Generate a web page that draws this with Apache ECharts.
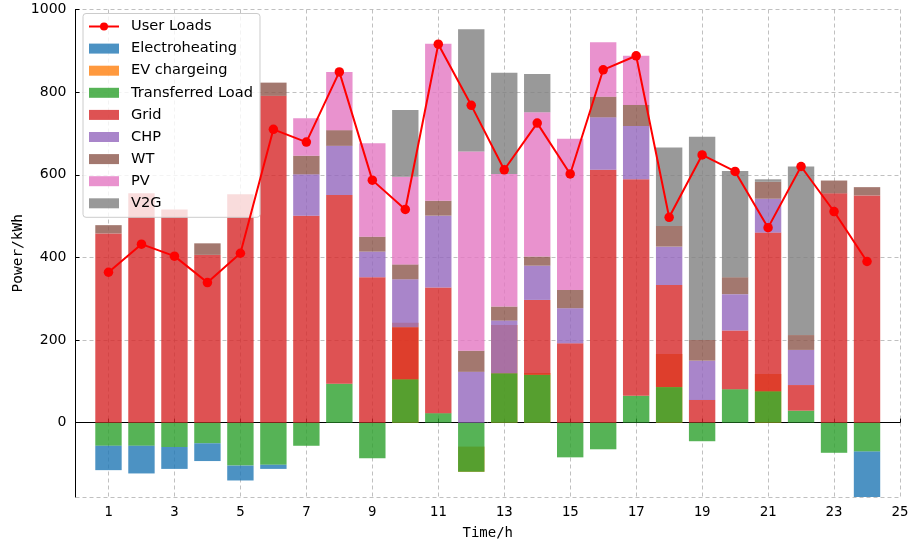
<!DOCTYPE html>
<html><head><meta charset="utf-8">
<script src="https://cdn.jsdelivr.net/npm/echarts@6/dist/echarts.min.js"></script>
<style>html,body{margin:0;padding:0;background:#fff}#c{width:910px;height:544px}</style>
</head><body><div id="c"></div>
<script>
// x categories (0..25), bars at hours 1..24
const xCategories = [0,1,2,3,4,5,6,7,8,9,10,11,12,13,14,15,16,17,18,19,20,21,22,23,24,25];
const hours = [1,2,3,4,5,6,7,8,9,10,11,12,13,14,15,16,17,18,19,20,21,22,23,24];

const transferredLoad = [-56,-56,-59,-50,-104,-102,-56,94,-86,105,23,-119,119.5,116,-84,-64.5,65,86,-45,81,76,29,-73,-70];
const electroheating  = [-59,-67,-53,-43,-36,-10,0,0,0,0,0,0,0,0,0,0,0,0,0,0,0,0,0,-120];
const evOffset        = [0,0,0,0,0,0,0,0,0,0,0,-58,0,0,0,0,0,0,0,0,0,0,0,0];
const evCharging      = [0,0,0,0,0,0,0,0,0,242,0,-61,236.5,120,0,0,0,166,0,0,118,0,0,0];
const grid            = [458,555,516,406,553,791,501,457,352,126,304,0,0,181,192,612,524,247,55,142,384,62,555,550];
const chp             = [0,0,0,0,0,0,100,119,62,116,174,123,127.5,83,85,127,129,93,95,88,82,85,0,0];
const wt              = [20,0,0,28,0,32,45,38,36,36,36,51,34,22,44,50,51,50,50,41,41,36,31,20];
const pv              = [0,0,0,0,0,0,91,141,226,212,380,482,321,349,366,132,119,0,0,0,0,0,0,0];
const v2g             = [0,0,0,0,0,0,0,0,0,162,0,296,245,93,0,0,0,190,492,257,6,408,0,0];
const userLoads       = [364,432,403,339,410,710,679,849,587,516,916,768,612,725,602,854,888,497,648,608,472,620,511,390];

const pad = a => [null].concat(a, [null]);
const odd = (i) => i % 2 === 1;

const barNames = ['Electroheating','EV chargeing','Transferred Load','Grid','CHP','WT','PV','V2G'];
const colors = {
  'Electroheating':'#1f77b4','EV chargeing':'#ff7f0e','Transferred Load':'#2ca02c','Grid':'#d62728',
  'CHP':'#9467bd','WT':'#8c564b','PV':'#e377c2','V2G':'#7f7f7f'
};
function bar(name, data, stack, color) {
  return {name, type:'bar', stack, data: pad(data), barWidth:'80%', barGap:'-100%',
    itemStyle:{color: color || colors[name], opacity: color === 'transparent' ? 0 : 0.8},
    emphasis:{disabled:true}, silent: true};
}
const gridLine = {color:'#b0b0b0', type:[4,3], width:0.8};

const series = [
  bar('_evbase', evOffset, 'ev', 'transparent'),
  bar('EV chargeing', evCharging, 'ev'),
  bar('Transferred Load', transferredLoad, 'main'),
  bar('Electroheating', electroheating, 'main'),
  bar('Grid', grid, 'main'),
  bar('CHP', chp, 'main'),
  bar('WT', wt, 'main'),
  bar('PV', pv, 'main'),
  bar('V2G', v2g, 'main'),
  {name:'User Loads', type:'line', data: pad(userLoads), symbol:'circle', symbolSize:9.5,
   lineStyle:{color:'#ff0000', width:2}, itemStyle:{color:'#ff0000'}, z:5, silent:true}
];

const chart = echarts.init(document.getElementById('c'), null, {renderer:'canvas'});
chart.setOption({
  animation:false,
  backgroundColor:'#fff',
  grid:{left:75.5, right:10, top:9.5, bottom:47, containLabel:false, outerBoundsMode:'none'},
  legend:{
    orient:'vertical', left:83, top:13.5,
    data:[{name:'User Loads'}].concat(barNames.map(n => ({name:n, icon:'rect'}))),
    itemWidth:30, itemHeight:10, itemGap:6.1,
    backgroundColor:'rgba(255,255,255,0.8)', borderColor:'#cccccc', borderWidth:1, borderRadius:3,
    padding:[5,7,6,5],
    textStyle:{fontFamily:'DejaVu Sans', fontSize:14.6, color:'#000', lineHeight:16, padding:[0,0,0,7]},
    selectedMode:false
  },
  xAxis:{
    type:'category', data:xCategories, boundaryGap:false,
    name:'Time/h', nameLocation:'middle', nameGap:29, nameMoveOverlap:false,
    nameTextStyle:{fontFamily:'DejaVu Sans Mono', fontSize:14, color:'#000'},
    axisLine:{show:true, lineStyle:{color:'#000', width:1}},
    axisTick:{show:true, inside:true, length:4, interval:odd, lineStyle:{color:'#000'}},
    axisLabel:{interval:odd, fontFamily:'DejaVu Sans Mono', fontSize:14, color:'#000', margin:8},
    splitLine:{show:true, interval:odd, lineStyle:gridLine}
  },
  yAxis:{
    type:'value', min:-180, max:1000, splitNumber:5,
    name:'Power/kWh', nameLocation:'middle', nameGap:50, nameMoveOverlap:false,
    nameTextStyle:{fontFamily:'DejaVu Sans Mono', fontSize:14.5, color:'#000'},
    axisLine:{show:true, lineStyle:{color:'#000', width:1}},
    axisTick:{show:true, inside:true, length:4, lineStyle:{color:'#000'}},
    axisLabel:{showMinLabel:false, formatter:(v) => String(v), fontFamily:'DejaVu Sans', fontSize:14, color:'#000', margin:9},
    splitLine:{show:true, lineStyle:gridLine}
  },
  series
});
</script>
</body></html>
